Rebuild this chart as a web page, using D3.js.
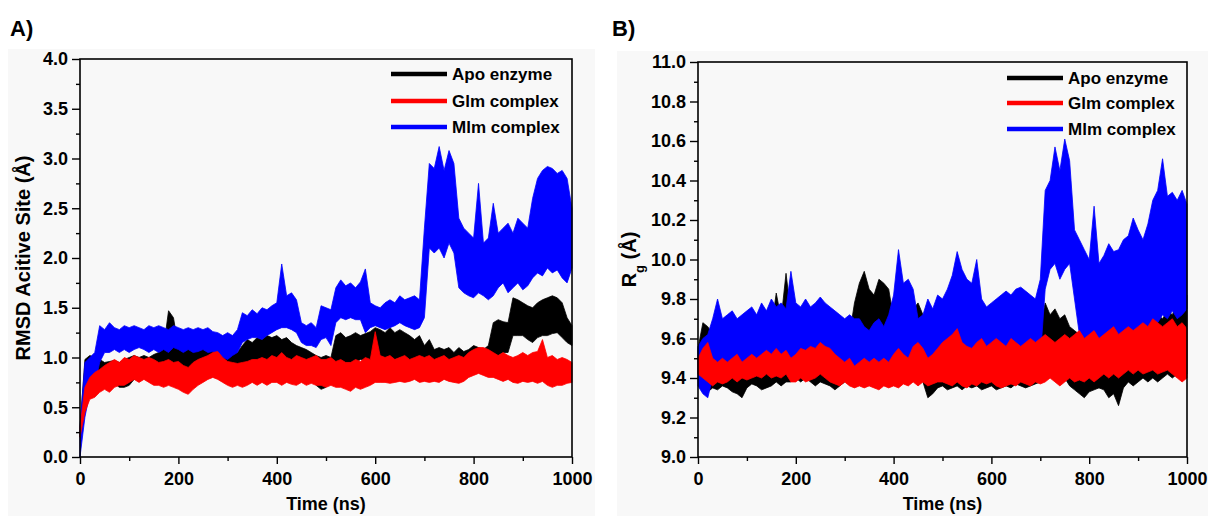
<!DOCTYPE html>
<html>
<head>
<meta charset="utf-8">
<script src="https://cdn.jsdelivr.net/npm/d3@7"></script>
<style>
  body { margin: 0; background: #fff; }
  text { font-family: "Liberation Sans", Arial, sans-serif; font-weight: bold; fill: #000; }
</style>
</head>
<body>
<svg id="chart" width="1208" height="516"></svg>
<script>
// sampling grid of the trajectories (ns)
const timeNs = d3.range(0, 1001, 10);
const seriesNames = ["Apo enzyme", "Glm complex", "Mlm complex"];
const seriesColors = ["#000000", "#ff0000", "#0000ff"];
const xTicks = [0, 200, 400, 600, 800, 1000];

// A) RMSD of the active site, lower / upper envelope every 10 ns
const rmsdApoLo = [0.20,0.70,0.80,0.82,0.78,0.72,0.72,0.74,0.70,0.70,
  0.72,0.78,0.80,0.80,0.78,0.80,0.80,0.82,0.85,0.85,
  0.85,0.88,0.85,0.85,0.88,0.85,0.85,0.82,0.80,0.80,
  0.85,0.88,0.90,0.92,0.95,0.95,0.95,0.98,0.95,0.98,
  1.00,0.98,0.95,0.95,0.90,0.85,0.80,0.78,0.72,0.68,
  0.70,0.75,0.95,0.95,0.95,0.95,0.95,0.98,0.98,0.95,
  1.00,1.00,1.00,1.00,0.98,1.00,1.00,0.95,0.95,0.95,
  0.92,0.92,0.92,0.92,0.90,0.92,0.92,0.90,0.95,0.95,
  0.98,0.98,0.95,0.95,1.00,1.02,1.05,1.05,1.22,1.22,
  1.22,1.18,1.15,1.20,1.22,1.22,1.24,1.25,1.20,1.15,
  1.12];
const rmsdApoHi = [0.30,0.98,1.02,1.00,0.98,0.95,0.96,0.97,0.95,0.98,
  1.00,1.02,1.00,1.02,1.00,1.03,1.05,1.10,1.47,1.40,
  1.10,1.12,1.08,1.10,1.08,1.12,1.08,1.10,1.05,1.00,
  1.02,1.05,1.05,1.12,1.18,1.15,1.20,1.18,1.22,1.20,
  1.22,1.18,1.20,1.15,1.12,1.10,1.08,1.05,1.02,1.00,
  1.02,1.00,1.22,1.25,1.20,1.22,1.25,1.22,1.24,1.26,
  1.30,1.28,1.25,1.30,1.25,1.28,1.25,1.22,1.18,1.22,
  1.12,1.18,1.08,1.10,1.08,1.10,1.05,1.10,1.06,1.08,
  1.12,1.10,1.08,1.12,1.35,1.38,1.36,1.35,1.60,1.58,
  1.55,1.52,1.50,1.55,1.58,1.60,1.62,1.60,1.55,1.40,
  1.32];
const rmsdGlmLo = [0.20,0.45,0.58,0.60,0.65,0.68,0.65,0.70,0.72,0.72,
  0.75,0.78,0.75,0.78,0.75,0.72,0.72,0.70,0.72,0.70,
  0.68,0.65,0.63,0.68,0.72,0.75,0.78,0.80,0.78,0.75,
  0.72,0.70,0.72,0.70,0.72,0.75,0.72,0.75,0.72,0.75,
  0.75,0.72,0.75,0.73,0.72,0.75,0.72,0.74,0.72,0.72,
  0.70,0.72,0.70,0.70,0.68,0.66,0.70,0.68,0.70,0.72,
  0.75,0.75,0.75,0.74,0.75,0.76,0.75,0.76,0.78,0.75,
  0.76,0.75,0.76,0.75,0.78,0.76,0.75,0.74,0.76,0.80,
  0.82,0.84,0.82,0.80,0.80,0.78,0.76,0.78,0.75,0.74,
  0.76,0.75,0.76,0.74,0.76,0.72,0.70,0.72,0.72,0.74,
  0.75];
const rmsdGlmHi = [0.30,0.70,0.80,0.85,0.88,0.92,0.95,0.98,0.95,1.00,
  0.98,1.02,1.00,0.98,1.00,0.98,0.95,0.96,0.98,0.95,
  0.96,0.92,0.90,0.95,0.98,1.00,1.02,1.05,1.06,1.00,
  0.96,0.95,0.94,0.95,0.96,0.98,0.98,1.00,0.98,1.02,
  1.00,1.05,1.00,0.98,1.02,1.00,0.98,1.00,1.02,0.98,
  0.98,1.00,0.96,0.98,0.95,0.95,0.98,0.96,1.00,0.98,
  1.26,1.02,1.00,1.02,0.98,1.00,1.02,0.98,1.00,1.02,
  1.00,1.02,0.98,1.00,1.02,0.98,1.00,1.02,1.00,1.05,
  1.08,1.10,1.10,1.08,1.05,1.02,1.05,1.02,1.00,1.02,
  1.05,1.02,1.05,1.06,1.18,1.00,1.02,0.98,1.00,0.98,
  0.95];
const rmsdMlmLo = [0.00,0.40,0.65,0.72,0.95,1.05,1.05,1.08,1.05,1.08,
  1.05,1.08,1.10,1.08,1.05,1.08,1.05,1.08,1.05,1.10,
  1.08,1.05,1.08,1.05,1.06,1.08,1.05,1.06,1.02,1.00,
  0.98,1.02,1.05,1.15,1.18,1.20,1.20,1.18,1.22,1.25,
  1.28,1.30,1.30,1.28,1.25,1.15,1.12,1.12,1.10,1.18,
  1.20,1.12,1.35,1.40,1.38,1.40,1.38,1.38,1.25,1.30,
  1.32,1.30,1.28,1.30,1.32,1.35,1.32,1.30,1.28,1.30,
  1.40,2.10,2.05,2.10,2.00,2.15,2.05,1.70,1.65,1.62,
  1.60,1.65,1.62,1.58,1.62,1.70,1.75,1.65,1.70,1.75,
  1.68,1.72,1.80,1.85,1.82,1.90,1.85,1.88,1.80,1.75,
  1.90];
const rmsdMlmHi = [0.30,0.95,1.00,1.05,1.32,1.28,1.35,1.30,1.28,1.32,
  1.30,1.32,1.30,1.28,1.32,1.30,1.32,1.30,1.28,1.32,
  1.30,1.28,1.30,1.28,1.30,1.28,1.30,1.26,1.25,1.22,
  1.25,1.22,1.28,1.45,1.42,1.48,1.44,1.50,1.48,1.52,
  1.55,1.94,1.62,1.65,1.58,1.35,1.32,1.35,1.30,1.52,
  1.50,1.48,1.70,1.78,1.72,1.75,1.70,1.76,1.89,1.55,
  1.52,1.50,1.55,1.58,1.55,1.62,1.58,1.60,1.62,1.58,
  2.30,2.95,2.90,3.12,2.88,3.08,2.95,2.40,2.30,2.25,
  2.20,2.75,2.15,2.20,2.55,2.25,2.30,2.35,2.25,2.40,
  2.35,2.30,2.60,2.80,2.88,2.92,2.90,2.85,2.88,2.80,
  2.50];

// B) radius of gyration, lower / upper envelope every 10 ns
const rgApoLo = [9.42,9.35,9.33,9.35,9.34,9.36,9.35,9.33,9.32,9.30,
  9.35,9.37,9.36,9.34,9.35,9.36,9.38,9.36,9.38,9.38,
  9.40,9.38,9.40,9.38,9.36,9.38,9.37,9.36,9.34,9.36,
  9.38,9.40,9.50,9.60,9.62,9.55,9.58,9.60,9.58,9.55,
  9.45,9.40,9.38,9.40,9.42,9.40,9.38,9.30,9.32,9.35,
  9.36,9.34,9.35,9.36,9.34,9.36,9.35,9.36,9.34,9.35,
  9.36,9.34,9.35,9.36,9.35,9.37,9.36,9.35,9.36,9.37,
  9.38,9.40,9.42,9.40,9.38,9.40,9.36,9.34,9.32,9.30,
  9.33,9.34,9.35,9.34,9.30,9.32,9.26,9.35,9.38,9.36,
  9.38,9.40,9.38,9.40,9.38,9.40,9.42,9.40,9.42,9.40,
  9.42];
const rgApoHi = [9.55,9.68,9.66,9.62,9.60,9.62,9.60,9.62,9.60,9.58,
  9.60,9.62,9.60,9.62,9.64,9.65,9.83,9.70,9.93,9.72,
  9.65,9.62,9.64,9.62,9.60,9.62,9.60,9.62,9.60,9.58,
  9.60,9.62,9.78,9.88,9.94,9.85,9.82,9.90,9.88,9.85,
  9.70,9.68,9.65,9.70,9.75,9.78,9.72,9.65,9.62,9.60,
  9.62,9.64,9.62,9.65,9.62,9.60,9.64,9.62,9.60,9.62,
  9.60,9.62,9.64,9.62,9.65,9.62,9.64,9.62,9.64,9.65,
  9.66,9.78,9.72,9.75,9.70,9.72,9.66,9.64,9.62,9.64,
  9.62,9.65,9.62,9.64,9.65,9.66,9.64,9.70,9.72,9.70,
  9.68,9.72,9.70,9.68,9.72,9.70,9.74,9.72,9.78,9.80,
  9.82];
const rgGlmLo = [9.42,9.40,9.38,9.36,9.38,9.37,9.38,9.40,9.38,9.40,
  9.39,9.40,9.41,9.40,9.42,9.40,9.41,9.40,9.42,9.38,
  9.38,9.40,9.38,9.39,9.40,9.42,9.40,9.38,9.37,9.36,
  9.38,9.36,9.35,9.36,9.35,9.36,9.35,9.34,9.36,9.35,
  9.36,9.35,9.37,9.36,9.38,9.36,9.38,9.36,9.37,9.38,
  9.38,9.37,9.36,9.38,9.36,9.35,9.37,9.36,9.38,9.37,
  9.38,9.36,9.35,9.36,9.37,9.36,9.38,9.37,9.36,9.38,
  9.37,9.38,9.40,9.38,9.36,9.38,9.40,9.38,9.39,9.38,
  9.40,9.38,9.40,9.42,9.40,9.42,9.40,9.42,9.44,9.42,
  9.44,9.42,9.43,9.44,9.42,9.43,9.44,9.42,9.40,9.38,
  9.40];
const rgGlmHi = [9.50,9.55,9.58,9.50,9.48,9.50,9.48,9.50,9.52,9.48,
  9.50,9.52,9.50,9.52,9.54,9.52,9.55,9.52,9.54,9.50,
  9.52,9.55,9.54,9.56,9.55,9.58,9.56,9.55,9.52,9.50,
  9.48,9.50,9.46,9.48,9.50,9.48,9.50,9.48,9.50,9.48,
  9.52,9.55,9.52,9.50,9.56,9.58,9.55,9.50,9.52,9.55,
  9.58,9.60,9.62,9.65,9.58,9.56,9.55,9.58,9.60,9.56,
  9.58,9.60,9.58,9.56,9.60,9.58,9.56,9.58,9.60,9.58,
  9.60,9.62,9.60,9.58,9.60,9.62,9.60,9.62,9.64,9.60,
  9.62,9.64,9.60,9.62,9.64,9.66,9.62,9.64,9.66,9.64,
  9.66,9.68,9.66,9.70,9.68,9.66,9.68,9.70,9.66,9.68,
  9.65];
const rgMlmLo = [9.36,9.32,9.30,9.40,9.42,9.45,9.44,9.46,9.45,9.44,
  9.46,9.47,9.45,9.48,9.46,9.47,9.46,9.48,9.47,9.46,
  9.48,9.47,9.46,9.48,9.47,9.48,9.47,9.46,9.45,9.45,
  9.44,9.44,9.43,9.44,9.45,9.42,9.44,9.45,9.44,9.46,
  9.45,9.44,9.45,9.46,9.44,9.42,9.43,9.45,9.44,9.46,
  9.45,9.44,9.48,9.50,9.52,9.50,9.48,9.50,9.44,9.46,
  9.45,9.47,9.48,9.46,9.48,9.47,9.48,9.47,9.48,9.48,
  9.50,9.85,9.95,9.98,9.90,9.95,9.98,9.80,9.62,9.60,
  9.58,9.56,9.58,9.56,9.60,9.58,9.62,9.60,9.62,9.64,
  9.62,9.60,9.65,9.66,9.68,9.72,9.70,9.74,9.70,9.72,
  9.75];
const rgMlmHi = [9.56,9.60,9.62,9.70,9.80,9.70,9.72,9.74,9.70,9.72,
  9.74,9.76,9.72,9.78,9.74,9.80,9.76,9.78,9.75,9.94,
  9.78,9.76,9.80,9.76,9.78,9.81,9.78,9.76,9.74,9.72,
  9.70,9.72,9.70,9.70,9.66,9.64,9.68,9.70,9.66,9.72,
  9.82,10.05,9.88,9.90,9.85,9.70,9.72,9.80,9.75,9.82,
  9.80,9.85,9.92,10.04,9.95,9.90,9.88,10.00,9.80,9.76,
  9.78,9.80,9.82,9.84,9.82,9.85,9.86,9.84,9.82,9.80,
  9.90,10.35,10.40,10.57,10.45,10.61,10.50,10.15,10.10,10.05,
  10.00,10.27,9.98,10.02,10.08,10.04,10.05,10.10,10.12,10.21,
  10.15,10.10,10.18,10.30,10.35,10.51,10.32,10.34,10.30,10.35,
  10.28];

const svg = d3.select("#chart");

function drawPanel(p) {
  const g = svg.append("g");
  g.append("rect").attr("x", p.bg[0]).attr("y", p.bg[1])
    .attr("width", p.bg[2]).attr("height", p.bg[3]).attr("fill", "#f8f8f8");

  const x = d3.scaleLinear().domain([0, 1000]).range([p.left, p.right]);
  const y = d3.scaleLinear().domain(p.yDomain).range([p.bottom, p.top]);

  // black first, then blue, red on top
  [0, 2, 1].forEach(k => {
    const area = d3.area()
      .x((d, i) => x(timeNs[i]))
      .y0((d, i) => y(p.lo[k][i]))
      .y1((d, i) => y(p.hi[k][i]));
    g.append("path")
      .attr("d", area(timeNs))
      .attr("fill", seriesColors[k])
      .attr("stroke", seriesColors[k])
      .attr("stroke-width", 0.8)
      .attr("stroke-linejoin", "miter");
  });

  // frame
  g.append("rect").attr("x", p.left).attr("y", p.top)
    .attr("width", p.right - p.left).attr("height", p.bottom - p.top)
    .attr("fill", "none").attr("stroke", "#000").attr("stroke-width", 1.6);

  const xMinor = [100, 300, 500, 700, 900];
  g.append("g").attr("transform", `translate(0,${p.bottom})`)
    .call(d3.axisBottom(x).tickValues(xMinor).tickSize(4).tickFormat(""))
    .call(a => a.select(".domain").remove());
  g.append("g").attr("transform", `translate(0,${p.bottom})`)
    .call(d3.axisBottom(x).tickValues(xTicks).tickSize(7).tickPadding(8)
      .tickSizeOuter(0).tickFormat(d3.format("d")))
    .call(a => a.select(".domain").remove())
    .call(a => a.selectAll("text").style("font-size", "18px"));

  g.append("g").attr("transform", `translate(${p.left},0)`)
    .call(d3.axisLeft(y).tickValues(p.yMinor).tickSize(4).tickFormat(""))
    .call(a => a.select(".domain").remove());
  g.append("g").attr("transform", `translate(${p.left},0)`)
    .call(d3.axisLeft(y).tickValues(p.yTicks).tickSize(8).tickPadding(4).tickFormat(d3.format(".1f")))
    .call(a => a.select(".domain").remove())
    .call(a => a.selectAll("text").style("font-size", "18px"));

  g.selectAll(".tick line").attr("stroke-width", 1.4);

  // axis titles
  g.append("text").attr("x", (p.left + p.right) / 2).attr("y", 510)
    .attr("text-anchor", "middle").style("font-size", "18px").text("Time (ns)");
  const yt = g.append("text")
    .attr("transform", `translate(${p.yTitleX},${(p.top + p.bottom) / 2}) rotate(-90)`)
    .attr("text-anchor", "middle").style("font-size", "20px");
  p.yTitle(yt);

  // panel letter
  g.append("text").attr("x", p.letterX).attr("y", 36)
    .style("font-size", "22px").text(p.letter);

  // legend
  seriesNames.forEach((name, i) => {
    const ly = p.legendY[i];
    g.append("line").attr("x1", p.legendX).attr("x2", p.legendX + 56)
      .attr("y1", ly).attr("y2", ly)
      .attr("stroke", seriesColors[i]).attr("stroke-width", 4.5);
    g.append("text").attr("x", p.legendX + 61).attr("y", ly + 6)
      .style("font-size", "17px").text(name);
  });
}

drawPanel({
  letter: "A)", letterX: 10,
  bg: [8, 49, 587, 467],
  left: 80, right: 572, top: 59, bottom: 457,
  yDomain: [0, 4],
  yTicks: [0, 0.5, 1, 1.5, 2, 2.5, 3, 3.5, 4],
  yMinor: [0.25, 0.75, 1.25, 1.75, 2.25, 2.75, 3.25, 3.75],
  lo: [rmsdApoLo, rmsdGlmLo, rmsdMlmLo],
  hi: [rmsdApoHi, rmsdGlmHi, rmsdMlmHi],
  yTitleX: 30,
  yTitle: t => t.text("RMSD Acitive Site (Å)"),
  legendX: 391, legendY: [74, 101, 127]
});

drawPanel({
  letter: "B)", letterX: 612,
  bg: [617, 51, 591, 465],
  left: 698, right: 1187, top: 62, bottom: 457,
  yDomain: [9, 11],
  yTicks: [9, 9.2, 9.4, 9.6, 9.8, 10, 10.2, 10.4, 10.6, 10.8, 11],
  yMinor: [9.1, 9.3, 9.5, 9.7, 9.9, 10.1, 10.3, 10.5, 10.7, 10.9],
  lo: [rgApoLo, rgGlmLo, rgMlmLo],
  hi: [rgApoHi, rgGlmHi, rgMlmHi],
  yTitleX: 636,
  yTitle: t => {
    t.append("tspan").text("R");
    t.append("tspan").attr("baseline-shift", "sub").style("font-size", "13px").text("g");
    t.append("tspan").text(" (Å)");
  },
  legendX: 1007, legendY: [78, 103, 129]
});
</script>
</body>
</html>
